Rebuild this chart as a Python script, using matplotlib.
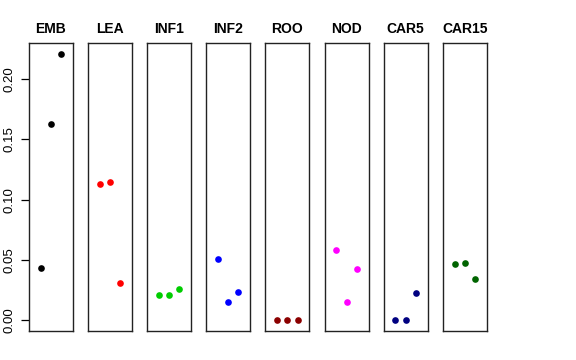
import matplotlib
matplotlib.use("Agg")
import matplotlib.pyplot as plt

categories = ["EMB", "LEA", "INF1", "INF2", "ROO", "NOD", "CAR5", "CAR15"]
values = {
    "EMB":   [0.0434, 0.1627, 0.2210],
    "LEA":   [0.1134, 0.1143, 0.0310],
    "INF1":  [0.0207, 0.0207, 0.0263],
    "INF2":  [0.0506, 0.0155, 0.0232],
    "ROO":   [0.0, 0.0, 0.0],
    "NOD":   [0.0587, 0.0155, 0.0423],
    "CAR5":  [0.0, 0.0, 0.0227],
    "CAR15": [0.0465, 0.0473, 0.0343],
}
colors = ["#000000", "#FF0000", "#00CD00", "#0000FF", "#8B0000", "#FF00FF", "#000080", "#006400"]
yticks = [0.00, 0.05, 0.10, 0.15, 0.20]
ytick_labels = ["0.00", "0.05", "0.10", "0.15", "0.20"]

W, H = 576, 360
fig = plt.figure(figsize=(W / 100, H / 100), dpi=100)
fig.patch.set_facecolor("white")

ymax = max(max(v) for v in values.values())
pad = ymax * 0.04
left0, step, pw = 29, 59.1, 44
top, bottom = 43, 331

for i, (cat, col) in enumerate(zip(categories, colors)):
    l = left0 + i * step
    ax = fig.add_axes([l / W, (H - bottom) / H, pw / W, (bottom - top) / H])
    ys = values[cat]
    xs = list(range(1, len(ys) + 1))
    ax.plot(xs, ys, "o", color=col, markersize=4.8, markeredgewidth=0)
    ax.set_xlim(-0.16, 4.16)
    ax.set_ylim(-pad, ymax + pad)
    ax.set_xticks([])
    for s in ax.spines.values():
        s.set_linewidth(1.0)
        s.set_color("#222222")
    ax.set_title(cat, fontsize=10, fontweight="bold", pad=7.5, family="Liberation Sans")
    if i == 0:
        ax.set_yticks(yticks)
        ax.set_yticklabels(ytick_labels, rotation=90, va="center",
                           fontsize=9.5, family="Liberation Sans")
        ax.tick_params(axis="y", length=5.5, width=0.9, pad=4)
    else:
        ax.set_yticks([])

fig.savefig("out.png", dpi=100, facecolor="white")
